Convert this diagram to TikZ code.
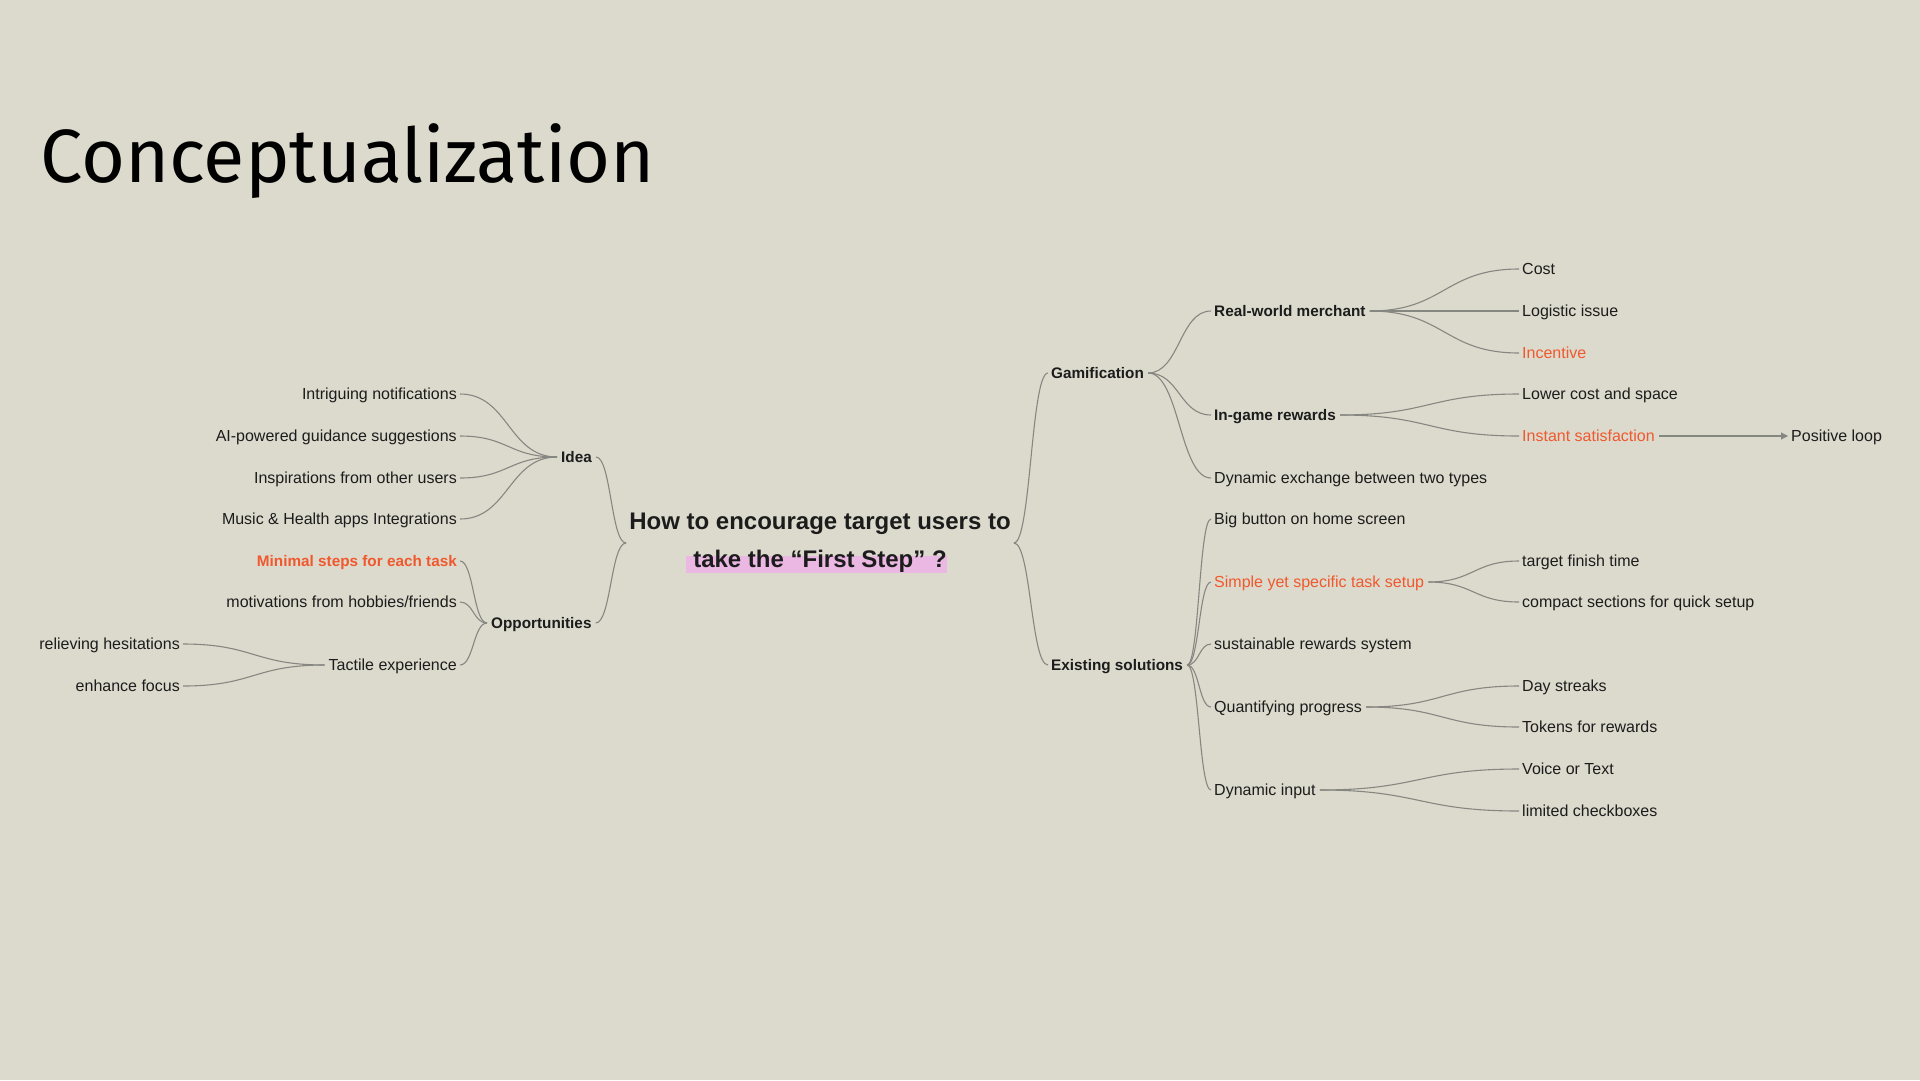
\documentclass[tikz,border=0pt]{standalone}
\usepackage{fontspec}
\setmainfont{Liberation Sans}
\newfontfamily\titlefont{Fira Sans}
\usetikzlibrary{calc,arrows.meta}
\definecolor{bgc}{RGB}{220,218,205}
\definecolor{linec}{RGB}{135,135,130}
\definecolor{orangec}{RGB}{240,88,45}
\definecolor{pinkc}{RGB}{234,184,226}
\definecolor{textc}{RGB}{28,28,28}
\tikzset{
  lbl/.style={inner sep=0pt, text height=11.5pt, text depth=0pt, text=textc, font=\fontsize{16}{19}\selectfont},
  blbl/.style={lbl, font=\bfseries\fontsize{15.3}{19}\selectfont},
  olbl/.style={lbl, text=orangec},
  conn/.style={draw=linec, line width=1.1pt},
}
\newcommand\rlink[2]{\draw[conn] let \p1=([xshift=4pt]#1.east), \p2=([xshift=-3pt]#2.west), \n1={(\x2-\x1)/2} in (\p1) .. controls +(\n1,0) and +(-\n1,0) .. (\p2);}
\newcommand\llink[2]{\draw[conn] let \p1=([xshift=-4pt]#1.west), \p2=([xshift=3pt]#2.east), \n1={(\x2-\x1)/2} in (\p1) .. controls +(\n1,0) and +(-\n1,0) .. (\p2);}
\begin{document}
\begin{tikzpicture}[x=1pt,y=-1pt]
\fill[bgc] (0,0) rectangle (1920,1080);
\useasboundingbox (0,0) rectangle (1920,1080);
% title
\node[anchor=base west, inner sep=0pt, font=\titlefont\fontsize{75.5}{85}\selectfont, text=black] (title) at (40,182) {Conceptualization};
% center question
\fill[pinkc] (686,556) rectangle (947,573);
\node[inner sep=0pt, align=center, text=textc, font=\bfseries\fontsize{24}{38}\selectfont] (q) at (820,543) {How to encourage target users to\\take the “First Step” ?};
% left side
\node[blbl, anchor=west] (idea) at (561,457) {Idea};
\node[blbl, anchor=west] (opp) at (491,623) {Opportunities};
\node[lbl, anchor=east] (intr) at (457,394) {Intriguing notifications};
\node[lbl, anchor=east] (ai) at (457,436) {AI-powered guidance suggestions};
\node[lbl, anchor=east] (insp) at (457,478) {Inspirations from other users};
\node[lbl, anchor=east] (music) at (457,519) {Music \& Health apps Integrations};
\node[blbl, text=orangec, anchor=east] (minimal) at (457,561) {Minimal steps for each task};
\node[lbl, anchor=east] (motiv) at (457,602) {motivations from hobbies/friends};
\node[lbl, anchor=east] (tact) at (457,665) {Tactile experience};
\node[lbl, anchor=east] (reliev) at (180,644) {relieving hesitations};
\node[lbl, anchor=east] (enh) at (180,686) {enhance focus};
% right side
\node[blbl, anchor=west] (gam) at (1051,373) {Gamification};
\node[blbl, anchor=west] (ex) at (1051,665) {Existing solutions};
\node[blbl, anchor=west] (rwm) at (1214,311) {Real-world merchant};
\node[blbl, anchor=west] (igr) at (1214,415) {In-game rewards};
\node[lbl, anchor=west] (dyn) at (1214,478) {Dynamic exchange between two types};
\node[lbl, anchor=west] (cost) at (1522,269) {Cost};
\node[lbl, anchor=west] (logi) at (1522,311) {Logistic issue};
\node[olbl, anchor=west] (inc) at (1522,353) {Incentive};
\node[lbl, anchor=west] (low) at (1522,394) {Lower cost and space};
\node[olbl, anchor=west] (inst) at (1522,436) {Instant satisfaction};
\node[lbl, anchor=west] (pos) at (1791,436) {Positive loop};
\node[lbl, anchor=west] (big) at (1214,519) {Big button on home screen};
\node[olbl, anchor=west] (simple) at (1214,582) {Simple yet specific task setup};
\node[lbl, anchor=west] (sust) at (1214,644) {sustainable rewards system};
\node[lbl, anchor=west] (quant) at (1214,707) {Quantifying progress};
\node[lbl, anchor=west] (dinp) at (1214,790) {Dynamic input};
\node[lbl, anchor=west] (tft) at (1522,561) {target finish time};
\node[lbl, anchor=west] (comp) at (1522,602) {compact sections for quick setup};
\node[lbl, anchor=west] (day) at (1522,686) {Day streaks};
\node[lbl, anchor=west] (tok) at (1522,727) {Tokens for rewards};
\node[lbl, anchor=west] (voice) at (1522,769) {Voice or Text};
\node[lbl, anchor=west] (lim) at (1522,811) {limited checkboxes};
% connectors: center
\draw[conn] let \p1=([xshift=-3pt]q.west), \p2=([xshift=4pt]idea.east), \n1={(\x2-\x1)/2} in (\p1) .. controls +(\n1,0) and +(-\n1,0) .. (\p2);
\draw[conn] let \p1=([xshift=-3pt]q.west), \p2=([xshift=4pt]opp.east), \n1={(\x2-\x1)/2} in (\p1) .. controls +(\n1,0) and +(-\n1,0) .. (\p2);
\draw[conn] let \p1=([xshift=3pt]q.east), \p2=([xshift=-3pt]gam.west), \n1={(\x2-\x1)/2} in (\p1) .. controls +(\n1,0) and +(-\n1,0) .. (\p2);
\draw[conn] let \p1=([xshift=3pt]q.east), \p2=([xshift=-3pt]ex.west), \n1={(\x2-\x1)/2} in (\p1) .. controls +(\n1,0) and +(-\n1,0) .. (\p2);
% left links
\llink{idea}{intr}
\llink{idea}{ai}
\llink{idea}{insp}
\llink{idea}{music}
\llink{opp}{minimal}
\llink{opp}{motiv}
\llink{opp}{tact}
\llink{tact}{reliev}
\llink{tact}{enh}
% right links
\rlink{gam}{rwm}
\rlink{gam}{igr}
\rlink{gam}{dyn}
\rlink{rwm}{cost}
\rlink{rwm}{logi}
\rlink{rwm}{inc}
\rlink{igr}{low}
\rlink{igr}{inst}
\rlink{ex}{big}
\rlink{ex}{simple}
\rlink{ex}{sust}
\rlink{ex}{quant}
\rlink{ex}{dinp}
\rlink{simple}{tft}
\rlink{simple}{comp}
\rlink{quant}{day}
\rlink{quant}{tok}
\rlink{dinp}{voice}
\rlink{dinp}{lim}
\draw[conn, -{Triangle[length=7pt,width=7pt]}] ([xshift=4pt]inst.east) -- ([xshift=-3pt]pos.west);
\end{tikzpicture}
\end{document}
